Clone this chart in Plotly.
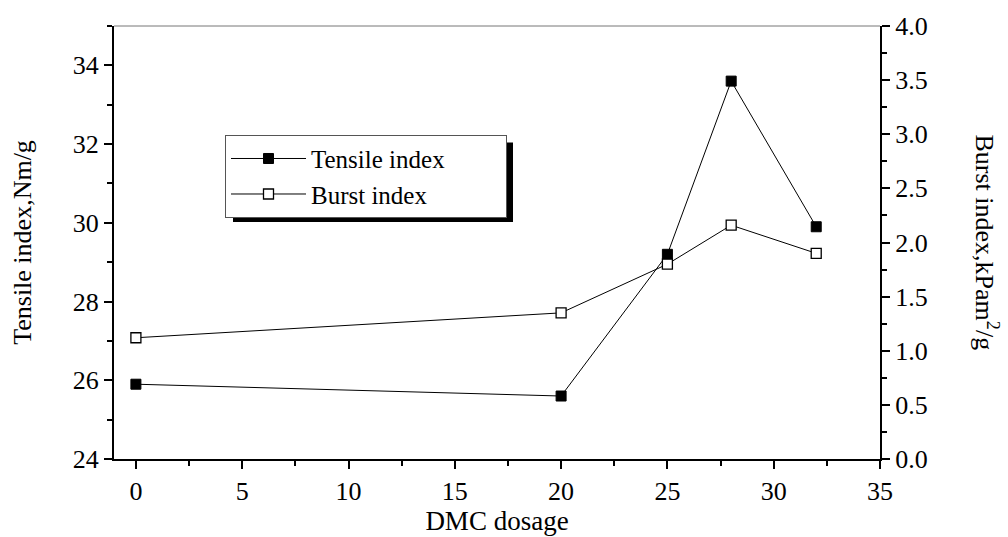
import plotly.graph_objects as go

dmc_dosage = [0, 20, 25, 28, 32]
tensile_index = [25.9, 25.6, 29.2, 33.6, 29.9]
burst_index = [1.12, 1.35, 1.80, 2.16, 1.90]

FONT = "Liberation Serif"
PAD = "&nbsp;" * 9

fig = go.Figure()
fig.add_trace(go.Scatter(
    x=dmc_dosage, y=tensile_index, name="Tensile index" + PAD, mode="lines+markers",
    line=dict(color="black", width=1),
    marker=dict(symbol="square", size=10, color="black", line=dict(color="black", width=1)),
    yaxis="y"))
fig.add_trace(go.Scatter(
    x=dmc_dosage, y=burst_index, name="Burst index", mode="lines+markers",
    line=dict(color="black", width=1),
    marker=dict(symbol="square", size=10, color="white", line=dict(color="black", width=1.3)),
    yaxis="y2"))

axis_common = dict(
    showgrid=False, zeroline=False, showline=True, linecolor="black", linewidth=2,
    ticks="outside", ticklen=8, tickwidth=1.5, tickcolor="black",
    tickfont=dict(family=FONT, size=26, color="black"),
)

PL, PR, PT, PB = 114, 880, 22, 468
PW, PH = PR - PL, PB - PT

def px(x):
    return (x - PL) / PW

def py(y):
    return 1 - (y - PT) / PH

LEG_L, LEG_T, LEG_R, LEG_B = 225, 134, 505, 216
SH = 8

fig.update_layout(
    width=1008, height=537,
    margin=dict(l=PL, r=1008 - PR, t=PT, b=537 - PB),
    paper_bgcolor="white", plot_bgcolor="white",
    font=dict(family=FONT, color="black"),
    showlegend=True,
    legend=dict(
        x=px(LEG_L), y=py(LEG_T), xanchor="left", yanchor="top",
        bgcolor="white", bordercolor="#555", borderwidth=1,
        font=dict(family=FONT, size=25, color="black"),
        tracegroupgap=0, itemwidth=75,
    ),
    xaxis=dict(
        **axis_common, range=[-1.03, 35], dtick=5, tick0=0,
        minor=dict(ticks="outside", ticklen=5, tickwidth=1.5, tickcolor="black", dtick=2.5),
        title=dict(text="DMC dosage", font=dict(family=FONT, size=27, color="black"), standoff=0),
    ),
    yaxis=dict(
        **axis_common, range=[24, 35], dtick=2, tick0=24,
        minor=dict(ticks="outside", ticklen=5, tickwidth=1.5, tickcolor="black", dtick=1),
        title=dict(text="Tensile index,Nm/g", font=dict(family=FONT, size=26, color="black"), standoff=34),
    ),
    yaxis2=dict(
        **axis_common, overlaying="y", side="right", range=[0, 4.0], dtick=0.5, tick0=0,
        tickformat=".1f", anchor="x",
        minor=dict(ticks="outside", ticklen=5, tickwidth=1.5, tickcolor="black", dtick=0.25),
    ),
    shapes=[
        # legend shadow
        dict(type="rect", xref="paper", yref="paper", layer="below",
             x0=px(LEG_L + SH), x1=px(LEG_R + SH), y0=py(LEG_B + SH), y1=py(LEG_T + SH),
             fillcolor="black", line=dict(width=0)),
        # thin top frame line
        dict(type="line", xref="paper", yref="paper", x0=0, x1=1, y0=1, y1=1,
             line=dict(color="#777", width=1)),
    ],
    annotations=[
        dict(text="Burst index,kPam<sup>2</sup>/g", xref="paper", yref="paper",
             x=px(986), y=0.5, textangle=90, showarrow=False,
             font=dict(family=FONT, size=26, color="black"), xanchor="center", yanchor="middle"),
    ],
)

fig.write_html("out.html")
